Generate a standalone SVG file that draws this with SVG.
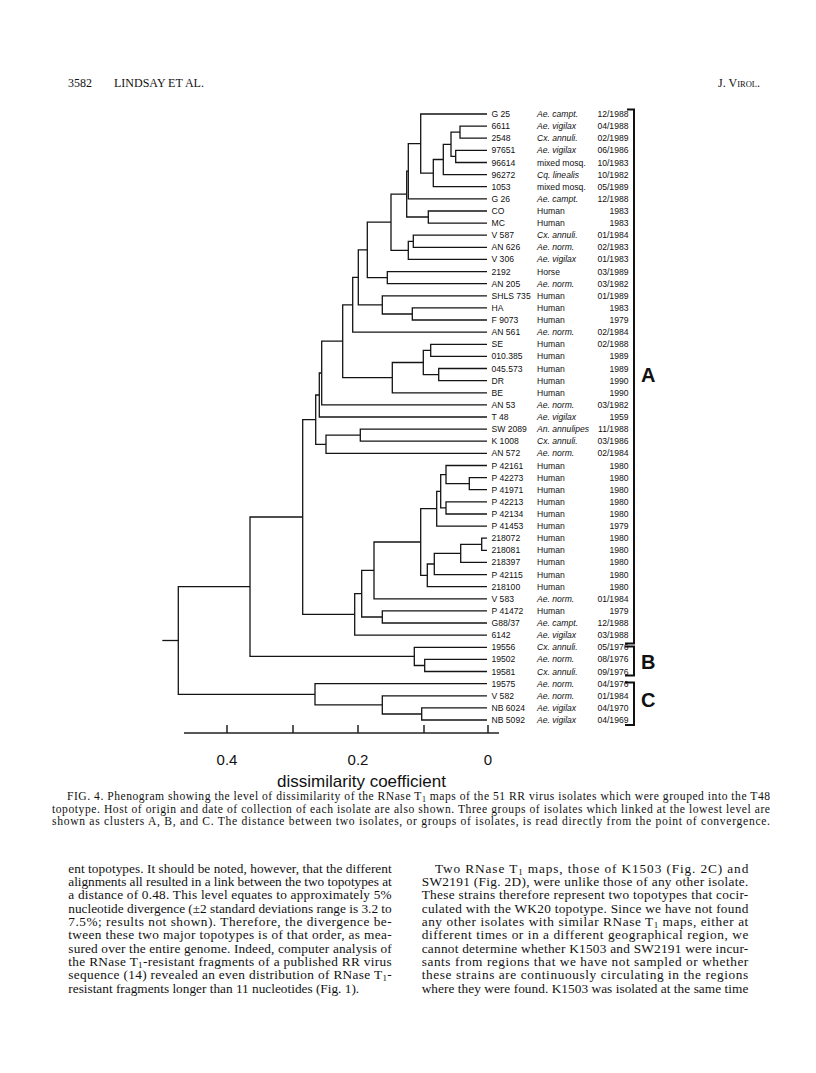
<svg xmlns="http://www.w3.org/2000/svg" width="816" height="1073" viewBox="0 0 816 1073">
<style>
.bg{fill:#fff}
.t{fill:none;stroke:#141414;stroke-width:1.3}
.br{fill:none;stroke:#111;stroke-width:2}
.ax{fill:none;stroke:#222;stroke-width:1.5}
.lb{font-family:"Liberation Sans",Arial,sans-serif;font-size:8.6px;fill:#111}
.i{font-style:italic}
.d{text-anchor:end}
.cl{font-family:"Liberation Sans",Arial,sans-serif;font-size:20px;font-weight:bold;fill:#111}
.tk{font-family:"Liberation Sans",Arial,sans-serif;font-size:15px;fill:#111;text-anchor:middle}
.at{font-family:"Liberation Sans",Arial,sans-serif;font-size:17px;fill:#111;text-anchor:middle}
.hd{font-family:"Liberation Serif","Times New Roman",serif;font-size:12px;fill:#111}
.cap{font-family:"Liberation Serif","Times New Roman",serif;font-size:11.6px;fill:#111}
.bd{font-family:"Liberation Serif","Times New Roman",serif;font-size:13.3px;fill:#111}
.sb{font-size:9px}
</style>
<rect class="bg" x="0" y="0" width="816" height="1073"/>

<g id="header">
<text class="hd" x="68" y="87">3582</text>
<text class="hd" x="114" y="87">LINDSAY ET AL.</text>
<text class="hd" x="760" y="87" text-anchor="end" font-size="11">J. V<tspan font-size="8.5">IROL</tspan>.</text>
</g>

<g id="connectors">
<path class="t" d="M487 126.1H460V138.2H487"/>
<path class="t" d="M487 150.4H455.7V162.5H487"/>
<path class="t" d="M460 132.2H451V156.4H455.7"/>
<path class="t" d="M451 144.3H443.3V174.6H487"/>
<path class="t" d="M443.3 159.5H433.3V186.7H487"/>
<path class="t" d="M487 114H420.7V173.1H433.3"/>
<path class="t" d="M420.7 143.6H408.3V198.8H487"/>
<path class="t" d="M487 211H428.3V223.1H487"/>
<path class="t" d="M408.3 171.2H406.7V217H428.3"/>
<path class="t" d="M487 235.2H413.3V247.3H487"/>
<path class="t" d="M413.3 241.3H408.3V259.4H487"/>
<path class="t" d="M406.7 194.1H391V250.3H408.3"/>
<path class="t" d="M487 271.6H387.3V283.7H487"/>
<path class="t" d="M391 222.2H367.3V277.6H387.3"/>
<path class="t" d="M487 307.9H412.3V320H487"/>
<path class="t" d="M487 295.8H382.3V314H412.3"/>
<path class="t" d="M367.3 249.9H358.3V304.9H382.3"/>
<path class="t" d="M358.3 277.4H352.7V332.2H487"/>
<path class="t" d="M487 344.3H430.7V356.4H487"/>
<path class="t" d="M487 368.5H438.7V380.6H487"/>
<path class="t" d="M430.7 350.3H423.3V374.6H438.7"/>
<path class="t" d="M423.3 362.5H392.3V392.8H487"/>
<path class="t" d="M352.7 304.8H342.7V377.6H392.3"/>
<path class="t" d="M342.7 341.2H321.7V404.9H487"/>
<path class="t" d="M321.7 373H319.3V417H487"/>
<path class="t" d="M487 429.1H360.3V441.2H487"/>
<path class="t" d="M360.3 435.2H326V453.4H487"/>
<path class="t" d="M319.3 395H315.7V444.3H326"/>
<path class="t" d="M487 477.6H469.3V489.7H487"/>
<path class="t" d="M487 465.5H446V483.7H469.3"/>
<path class="t" d="M487 501.8H446V514H487"/>
<path class="t" d="M446 474.6H440.7V507.9H446"/>
<path class="t" d="M440.7 491.3H436.7V526.1H487"/>
<path class="t" d="M487 538.2H481.7V550.3H487"/>
<path class="t" d="M481.7 544.3H460.7V562.4H487"/>
<path class="t" d="M460.7 553.4H434.3V574.6H487"/>
<path class="t" d="M434.3 564H427.3V586.7H487"/>
<path class="t" d="M436.7 508.7H420.7V575.3H427.3"/>
<path class="t" d="M420.7 542H374V598.8H487"/>
<path class="t" d="M487 610.9H382.3V623H487"/>
<path class="t" d="M374 570.4H361.7V617H382.3"/>
<path class="t" d="M361.7 593.7H354.7V635.2H487"/>
<path class="t" d="M315.7 419.6H302.7V614.4H354.7"/>
<path class="t" d="M487 659.4H424.7V671.5H487"/>
<path class="t" d="M487 647.3H414.3V665.5H424.7"/>
<path class="t" d="M302.7 517H250V656.4H414.3"/>
<path class="t" d="M487 707.9H421.7V720H487"/>
<path class="t" d="M487 695.8H382.3V714H421.7"/>
<path class="t" d="M487 683.6H315V704.9H382.3"/>
<path class="t" d="M250 586.7H178.3V694.3H315"/>
<path class="t" d="M162.3 640.5H178.3"/>
</g>

<g id="leaves" class="lb">
<g id="n1"><text x="491.5" y="117">G 25</text><text class="i" x="537" y="117">Ae. campt.</text><text class="d" x="628.5" y="117">12/1988</text></g>
<g id="n2"><text x="491.5" y="129.1">6611</text><text class="i" x="537" y="129.1">Ae. vigilax</text><text class="d" x="628.5" y="129.1">04/1988</text></g>
<g id="n3"><text x="491.5" y="141.2">2548</text><text class="i" x="537" y="141.2">Cx. annuli.</text><text class="d" x="628.5" y="141.2">02/1989</text></g>
<g id="n4"><text x="491.5" y="153.4">97651</text><text class="i" x="537" y="153.4">Ae. vigilax</text><text class="d" x="628.5" y="153.4">06/1986</text></g>
<g id="n5"><text x="491.5" y="165.5">96614</text><text x="537" y="165.5">mixed mosq.</text><text class="d" x="628.5" y="165.5">10/1983</text></g>
<g id="n6"><text x="491.5" y="177.6">96272</text><text class="i" x="537" y="177.6">Cq. linealis</text><text class="d" x="628.5" y="177.6">10/1982</text></g>
<g id="n7"><text x="491.5" y="189.7">1053</text><text x="537" y="189.7">mixed mosq.</text><text class="d" x="628.5" y="189.7">05/1989</text></g>
<g id="n8"><text x="491.5" y="201.8">G 26</text><text class="i" x="537" y="201.8">Ae. campt.</text><text class="d" x="628.5" y="201.8">12/1988</text></g>
<g id="n9"><text x="491.5" y="214">CO</text><text x="537" y="214">Human</text><text class="d" x="628.5" y="214">1983</text></g>
<g id="n10"><text x="491.5" y="226.1">MC</text><text x="537" y="226.1">Human</text><text class="d" x="628.5" y="226.1">1983</text></g>
<g id="n11"><text x="491.5" y="238.2">V 587</text><text class="i" x="537" y="238.2">Cx. annuli.</text><text class="d" x="628.5" y="238.2">01/1984</text></g>
<g id="n12"><text x="491.5" y="250.3">AN 626</text><text class="i" x="537" y="250.3">Ae. norm.</text><text class="d" x="628.5" y="250.3">02/1983</text></g>
<g id="n13"><text x="491.5" y="262.4">V 306</text><text class="i" x="537" y="262.4">Ae. vigilax</text><text class="d" x="628.5" y="262.4">01/1983</text></g>
<g id="n14"><text x="491.5" y="274.6">2192</text><text x="537" y="274.6">Horse</text><text class="d" x="628.5" y="274.6">03/1989</text></g>
<g id="n15"><text x="491.5" y="286.7">AN 205</text><text class="i" x="537" y="286.7">Ae. norm.</text><text class="d" x="628.5" y="286.7">03/1982</text></g>
<g id="n16"><text x="491.5" y="298.8">SHLS 735</text><text x="537" y="298.8">Human</text><text class="d" x="628.5" y="298.8">01/1989</text></g>
<g id="n17"><text x="491.5" y="310.9">HA</text><text x="537" y="310.9">Human</text><text class="d" x="628.5" y="310.9">1983</text></g>
<g id="n18"><text x="491.5" y="323">F 9073</text><text x="537" y="323">Human</text><text class="d" x="628.5" y="323">1979</text></g>
<g id="n19"><text x="491.5" y="335.2">AN 561</text><text class="i" x="537" y="335.2">Ae. norm.</text><text class="d" x="628.5" y="335.2">02/1984</text></g>
<g id="n20"><text x="491.5" y="347.3">SE</text><text x="537" y="347.3">Human</text><text class="d" x="628.5" y="347.3">02/1988</text></g>
<g id="n21"><text x="491.5" y="359.4">010.385</text><text x="537" y="359.4">Human</text><text class="d" x="628.5" y="359.4">1989</text></g>
<g id="n22"><text x="491.5" y="371.5">045.573</text><text x="537" y="371.5">Human</text><text class="d" x="628.5" y="371.5">1989</text></g>
<g id="n23"><text x="491.5" y="383.6">DR</text><text x="537" y="383.6">Human</text><text class="d" x="628.5" y="383.6">1990</text></g>
<g id="n24"><text x="491.5" y="395.8">BE</text><text x="537" y="395.8">Human</text><text class="d" x="628.5" y="395.8">1990</text></g>
<g id="n25"><text x="491.5" y="407.9">AN 53</text><text class="i" x="537" y="407.9">Ae. norm.</text><text class="d" x="628.5" y="407.9">03/1982</text></g>
<g id="n26"><text x="491.5" y="420">T 48</text><text class="i" x="537" y="420">Ae. vigilax</text><text class="d" x="628.5" y="420">1959</text></g>
<g id="n27"><text x="491.5" y="432.1">SW 2089</text><text class="i" x="537" y="432.1">An. annulipes</text><text class="d" x="628.5" y="432.1">11/1988</text></g>
<g id="n28"><text x="491.5" y="444.2">K 1008</text><text class="i" x="537" y="444.2">Cx. annuli.</text><text class="d" x="628.5" y="444.2">03/1986</text></g>
<g id="n29"><text x="491.5" y="456.4">AN 572</text><text class="i" x="537" y="456.4">Ae. norm.</text><text class="d" x="628.5" y="456.4">02/1984</text></g>
<g id="n30"><text x="491.5" y="468.5">P 42161</text><text x="537" y="468.5">Human</text><text class="d" x="628.5" y="468.5">1980</text></g>
<g id="n31"><text x="491.5" y="480.6">P 42273</text><text x="537" y="480.6">Human</text><text class="d" x="628.5" y="480.6">1980</text></g>
<g id="n32"><text x="491.5" y="492.7">P 41971</text><text x="537" y="492.7">Human</text><text class="d" x="628.5" y="492.7">1980</text></g>
<g id="n33"><text x="491.5" y="504.8">P 42213</text><text x="537" y="504.8">Human</text><text class="d" x="628.5" y="504.8">1980</text></g>
<g id="n34"><text x="491.5" y="517">P 42134</text><text x="537" y="517">Human</text><text class="d" x="628.5" y="517">1980</text></g>
<g id="n35"><text x="491.5" y="529.1">P 41453</text><text x="537" y="529.1">Human</text><text class="d" x="628.5" y="529.1">1979</text></g>
<g id="n36"><text x="491.5" y="541.2">218072</text><text x="537" y="541.2">Human</text><text class="d" x="628.5" y="541.2">1980</text></g>
<g id="n37"><text x="491.5" y="553.3">218081</text><text x="537" y="553.3">Human</text><text class="d" x="628.5" y="553.3">1980</text></g>
<g id="n38"><text x="491.5" y="565.4">218397</text><text x="537" y="565.4">Human</text><text class="d" x="628.5" y="565.4">1980</text></g>
<g id="n39"><text x="491.5" y="577.6">P 42115</text><text x="537" y="577.6">Human</text><text class="d" x="628.5" y="577.6">1980</text></g>
<g id="n40"><text x="491.5" y="589.7">218100</text><text x="537" y="589.7">Human</text><text class="d" x="628.5" y="589.7">1980</text></g>
<g id="n41"><text x="491.5" y="601.8">V 583</text><text class="i" x="537" y="601.8">Ae. norm.</text><text class="d" x="628.5" y="601.8">01/1984</text></g>
<g id="n42"><text x="491.5" y="613.9">P 41472</text><text x="537" y="613.9">Human</text><text class="d" x="628.5" y="613.9">1979</text></g>
<g id="n43"><text x="491.5" y="626">G88/37</text><text class="i" x="537" y="626">Ae. campt.</text><text class="d" x="628.5" y="626">12/1988</text></g>
<g id="n44"><text x="491.5" y="638.2">6142</text><text class="i" x="537" y="638.2">Ae. vigilax</text><text class="d" x="628.5" y="638.2">03/1988</text></g>
<g id="n45"><text x="491.5" y="650.3">19556</text><text class="i" x="537" y="650.3">Cx. annuli.</text><text class="d" x="628.5" y="650.3">05/1976</text></g>
<g id="n46"><text x="491.5" y="662.4">19502</text><text class="i" x="537" y="662.4">Ae. norm.</text><text class="d" x="628.5" y="662.4">08/1976</text></g>
<g id="n47"><text x="491.5" y="674.5">19581</text><text class="i" x="537" y="674.5">Cx. annuli.</text><text class="d" x="628.5" y="674.5">09/1976</text></g>
<g id="n48"><text x="491.5" y="686.6">19575</text><text class="i" x="537" y="686.6">Ae. norm.</text><text class="d" x="628.5" y="686.6">04/1976</text></g>
<g id="n49"><text x="491.5" y="698.8">V 582</text><text class="i" x="537" y="698.8">Ae. norm.</text><text class="d" x="628.5" y="698.8">01/1984</text></g>
<g id="n50"><text x="491.5" y="710.9">NB 6024</text><text class="i" x="537" y="710.9">Ae. vigilax</text><text class="d" x="628.5" y="710.9">04/1970</text></g>
<g id="n51"><text x="491.5" y="723">NB 5092</text><text class="i" x="537" y="723">Ae. vigilax</text><text class="d" x="628.5" y="723">04/1969</text></g>
</g>

<g id="clusters">
<path class="br" d="M627 109.5H634V643.5H625"/>
<path class="br" d="M625 646.5H634V675.5H625"/>
<path class="br" d="M625 682.5H634V725H625"/>
<text class="cl" x="641" y="382">A</text>
<text class="cl" x="641" y="669">B</text>
<text class="cl" x="641" y="707">C</text>
</g>

<g id="axis">
<path class="ax" d="M184 733H499M227 725V733M293 725V733M358 725V733M424 725V733M488 725V733"/>
<text class="tk" x="227" y="765">0.4</text>
<text class="tk" x="358" y="765">0.2</text>
<text class="tk" x="488" y="765">0</text>
<text class="at" x="361.5" y="787">dissimilarity coefficient</text>
</g>

<g id="caption" class="cap">
<text x="67" y="800" textLength="703" lengthAdjust="spacing">FIG. 4. Phenogram showing the level of dissimilarity of the RNase T<tspan font-size="8" dy="1.5">1</tspan><tspan dy="-1.5"> maps of the 51 RR virus isolates which were grouped into the T48</tspan></text>
<text x="52" y="812.5" textLength="718" lengthAdjust="spacing">topotype. Host of origin and date of collection of each isolate are also shown. Three groups of isolates which linked at the lowest level are</text>
<text x="52" y="825" textLength="718" lengthAdjust="spacing">shown as clusters A, B, and C. The distance between two isolates, or groups of isolates, is read directly from the point of convergence.</text>
</g>

<g id="body-left" class="bd">
<text x="68.3" y="872.7" textLength="323.4" lengthAdjust="spacing">ent topotypes. It should be noted, however, that the different</text>
<text x="68.3" y="886" textLength="323.4" lengthAdjust="spacing">alignments all resulted in a link between the two topotypes at</text>
<text x="68.3" y="899.4" textLength="323.4" lengthAdjust="spacing">a distance of 0.48. This level equates to approximately 5%</text>
<text x="68.3" y="912.7" textLength="323.4" lengthAdjust="spacing">nucleotide divergence (±2 standard deviations range is 3.2 to</text>
<text x="68.3" y="926" textLength="323.4" lengthAdjust="spacing">7.5%; results not shown). Therefore, the divergence be-</text>
<text x="68.3" y="939.4" textLength="323.4" lengthAdjust="spacing">tween these two major topotypes is of that order, as mea-</text>
<text x="68.3" y="952.7" textLength="323.4" lengthAdjust="spacing">sured over the entire genome. Indeed, computer analysis of</text>
<text x="68.3" y="966" textLength="323.4" lengthAdjust="spacing">the RNase T<tspan class="sb" dy="2">1</tspan><tspan dy="-2">-resistant fragments of a published RR virus</tspan></text>
<text x="68.3" y="979.4" textLength="323.4" lengthAdjust="spacing">sequence (14) revealed an even distribution of RNase T<tspan class="sb" dy="2">1</tspan><tspan dy="-2">-</tspan></text>
<text x="68.3" y="992.7">resistant fragments longer than 11 nucleotides (Fig. 1).</text>
</g>

<g id="body-right" class="bd">
<text x="435" y="872.7" textLength="313.3" lengthAdjust="spacing">Two RNase T<tspan class="sb" dy="2">1</tspan><tspan dy="-2"> maps, those of K1503 (Fig. 2C) and</tspan></text>
<text x="421.7" y="886" textLength="326.6" lengthAdjust="spacing">SW2191 (Fig. 2D), were unlike those of any other isolate.</text>
<text x="421.7" y="899.4" textLength="326.6" lengthAdjust="spacing">These strains therefore represent two topotypes that cocir-</text>
<text x="421.7" y="912.7" textLength="326.6" lengthAdjust="spacing">culated with the WK20 topotype. Since we have not found</text>
<text x="421.7" y="926" textLength="326.6" lengthAdjust="spacing">any other isolates with similar RNase T<tspan class="sb" dy="2">1</tspan><tspan dy="-2"> maps, either at</tspan></text>
<text x="421.7" y="939.4" textLength="326.6" lengthAdjust="spacing">different times or in a different geographical region, we</text>
<text x="421.7" y="952.7" textLength="326.6" lengthAdjust="spacing">cannot determine whether K1503 and SW2191 were incur-</text>
<text x="421.7" y="966" textLength="326.6" lengthAdjust="spacing">sants from regions that we have not sampled or whether</text>
<text x="421.7" y="979.4" textLength="326.6" lengthAdjust="spacing">these strains are continuously circulating in the regions</text>
<text x="421.7" y="992.7" textLength="326.6" lengthAdjust="spacing">where they were found. K1503 was isolated at the same time</text>
</g>
</svg>
